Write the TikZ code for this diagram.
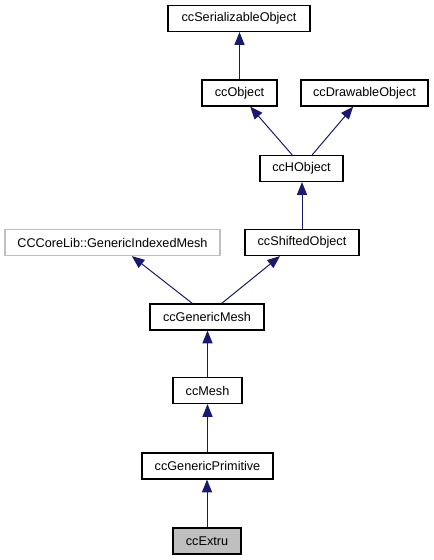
\documentclass[tikz,border=0pt]{standalone}
\usepackage{fontspec}
\setmainfont{Liberation Sans}
\usetikzlibrary{arrows.meta}
\definecolor{edge}{HTML}{191970}
\definecolor{grayborder}{HTML}{BFBFBF}
\definecolor{grayfill}{HTML}{BFBFBF}
\begin{document}
\begin{tikzpicture}[x=0.75pt,y=-0.75pt,
  cls/.style={draw=black, line width=0.9pt, fill=white, inner sep=0pt,
    minimum height=19.5pt, font=\fontsize{9.5pt}{11pt}\selectfont},
  ext/.style={cls, draw=grayborder},
  cur/.style={cls, fill=grayfill},
  inh/.style={draw=edge, line width=0.75pt, -{Triangle[length=9.5pt,width=7.5pt]}}]
\useasboundingbox (0,0) rectangle (433,560);
\node[cls, minimum width=106.5pt] (ser) at (239,18.5) {ccSerializableObject};
\node[cls, minimum width=56.25pt] (obj) at (239.5,93) {ccObject};
\node[cls, minimum width=95.25pt] (drw) at (364.5,93) {ccDrawableObject};
\node[cls, minimum width=62.25pt] (hobj) at (301.5,168.5) {ccHObject};
\node[cls, minimum width=85.5pt] (shf) at (302,242.5) {ccShiftedObject};
\node[ext, minimum width=161.25pt] (core) at (112.5,242.5) {CCCoreLib::GenericIndexedMesh};
\node[cls, minimum width=85.5pt] (gm) at (207,317) {ccGenericMesh};
\node[cls, minimum width=51.75pt] (mesh) at (207.5,390.5) {ccMesh};
\node[cls, minimum width=98.25pt] (gp) at (207.5,466) {ccGenericPrimitive};
\node[cur, minimum width=51pt] (ex) at (207,541) {ccExtru};
\draw[inh] (obj.north) -- (obj.north |- ser.south);
\draw[inh] ([xshift=-7pt]hobj.north) -- ([xshift=8pt]obj.south);
\draw[inh] ([xshift=8pt]hobj.north) -- ([xshift=-8.5pt]drw.south);
\draw[inh] (shf.north) -- (shf.north |- hobj.south);
\draw[inh] ([xshift=-11pt]gm.north) -- ([xshift=14.5pt]core.south);
\draw[inh] ([xshift=11pt]gm.north) -- ([xshift=-16.5pt]shf.south);
\draw[inh] (mesh.north) -- (mesh.north |- gm.south);
\draw[inh] (gp.north) -- (gp.north |- mesh.south);
\draw[inh] (ex.north) -- (ex.north |- gp.south);
\end{tikzpicture}
\end{document}
